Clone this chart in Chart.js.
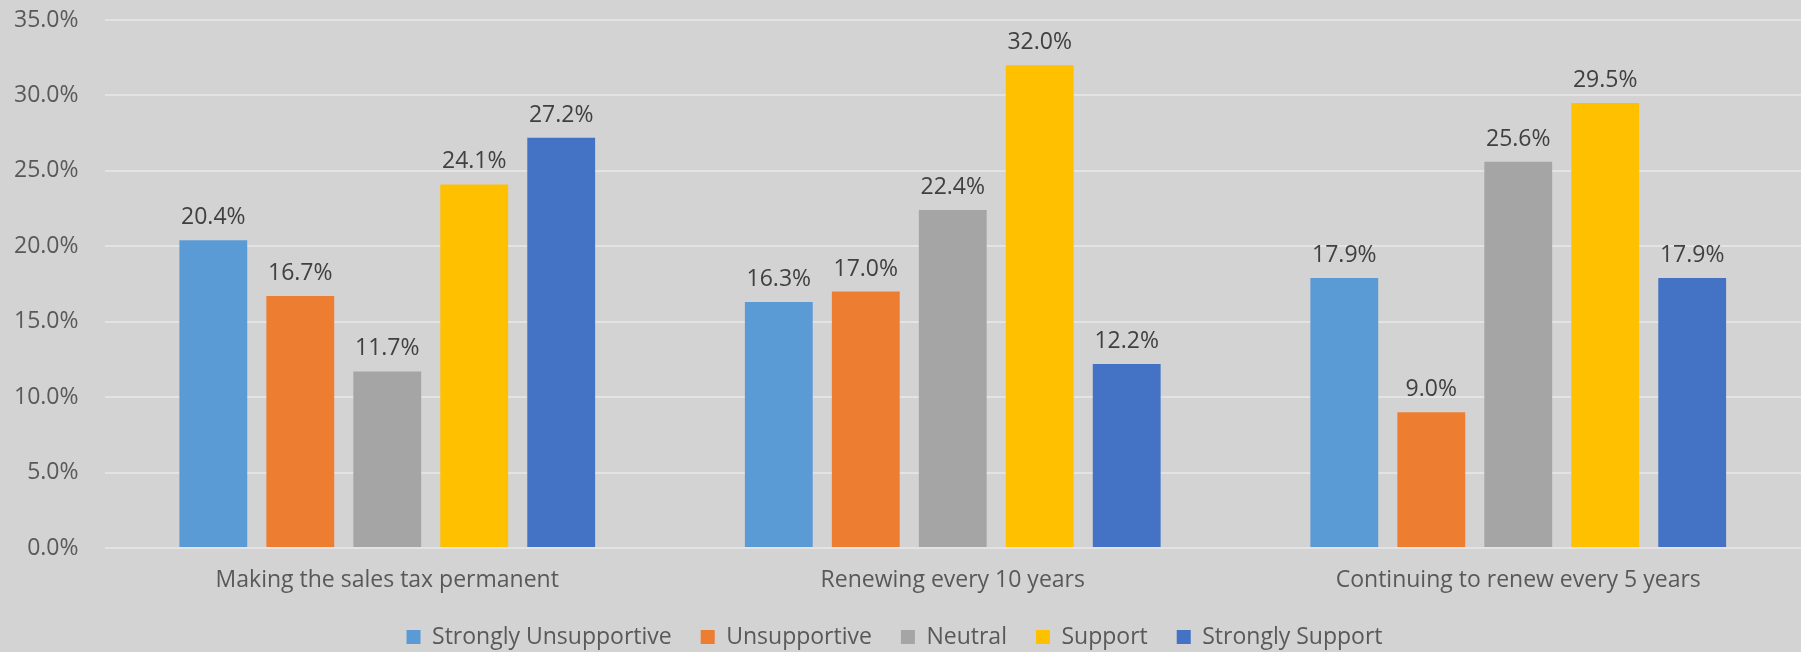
<!DOCTYPE html>
<html>
<head>
<meta charset="utf-8">
<script src="https://cdn.jsdelivr.net/npm/chart.js@4.4.0/dist/chart.umd.min.js"></script>
<style>
  html, body { margin: 0; padding: 0; background: #d3d3d3; }
  #wrap { width: 1801px; height: 652px; position: relative; }
</style>
</head>
<body>
<div id="wrap"><canvas id="myChart"></canvas></div>
<script>
const categories = ["Making the sales tax permanent", "Renewing every 10 years", "Continuing to renew every 5 years"];
const stronglyUnsupportive = [20.4, 16.3, 17.9];
const unsupportive = [16.7, 17.0, 9.0];
const neutral = [11.7, 22.4, 25.6];
const support = [24.1, 32.0, 29.5];
const stronglySupport = [27.2, 12.2, 17.9];
const yTicks = [0, 5, 10, 15, 20, 25, 30, 35];

const fontFamily = "'Open Sans', sans-serif";

// draws the value on top of each bar
const barLabels = {
  id: "barLabels",
  afterDatasetsDraw(chart) {
    const ctx = chart.ctx;
    ctx.save();
    ctx.font = "23px " + fontFamily;
    ctx.fillStyle = "#404040";
    ctx.textAlign = "center";
    ctx.textBaseline = "alphabetic";
    chart.data.datasets.forEach((ds, i) => {
      const meta = chart.getDatasetMeta(i);
      meta.data.forEach((bar, j) => {
        ctx.fillText(ds.data[j].toFixed(1) + "%", bar.x, bar.y - 16);
      });
    });
    ctx.restore();
  }
};

const ctx = document.getElementById("myChart");

new Chart(ctx, {
  type: "bar",
  data: {
    labels: categories,
    datasets: [
      { label: "Strongly Unsupportive", data: stronglyUnsupportive, backgroundColor: "#5b9bd5" },
      { label: "Unsupportive", data: unsupportive, backgroundColor: "#ed7d31" },
      { label: "Neutral", data: neutral, backgroundColor: "#a5a5a5" },
      { label: "Support", data: support, backgroundColor: "#ffc000" },
      { label: "Strongly Support", data: stronglySupport, backgroundColor: "#4472c4" }
    ]
  },
  options: {
    responsive: true,
    maintainAspectRatio: false,
    animation: false,
    datasets: {
      bar: { categoryPercentage: 0.769, barPercentage: 0.78 }
    },
    layout: { padding: { left: -12, right: 0, top: 0, bottom: -6.5 } },
    plugins: {
      tooltip: { enabled: false },
      legend: {
        position: "bottom",
        labels: {
          boxWidth: 14,
          boxHeight: 14,
          padding: 29,
          color: "#595959",
          font: { family: fontFamily, size: 23 }
        }
      }
    },
    scales: {
      x: {
        grid: { display: false, drawTicks: false },
        border: { display: false },
        ticks: { color: "#595959", padding: 19, font: { family: fontFamily, size: 23 } },
        afterFit: (scale) => { scale.height = 48.5; }
      },
      y: {
        min: 0,
        max: 35,
        afterBuildTicks: (axis) => { axis.ticks = yTicks.map(v => ({ value: v })); },
        afterFit: (scale) => { scale.paddingTop = 20; },
        grid: { color: "#e3e3e3", lineWidth: 2, drawTicks: false },
        border: { display: false },
        ticks: {
          color: "#595959",
          padding: 26,
          font: { family: fontFamily, size: 23 },
          callback: (v) => v.toFixed(1) + "%"
        }
      }
    }
  },
  plugins: [barLabels]
});
</script>
</body>
</html>
